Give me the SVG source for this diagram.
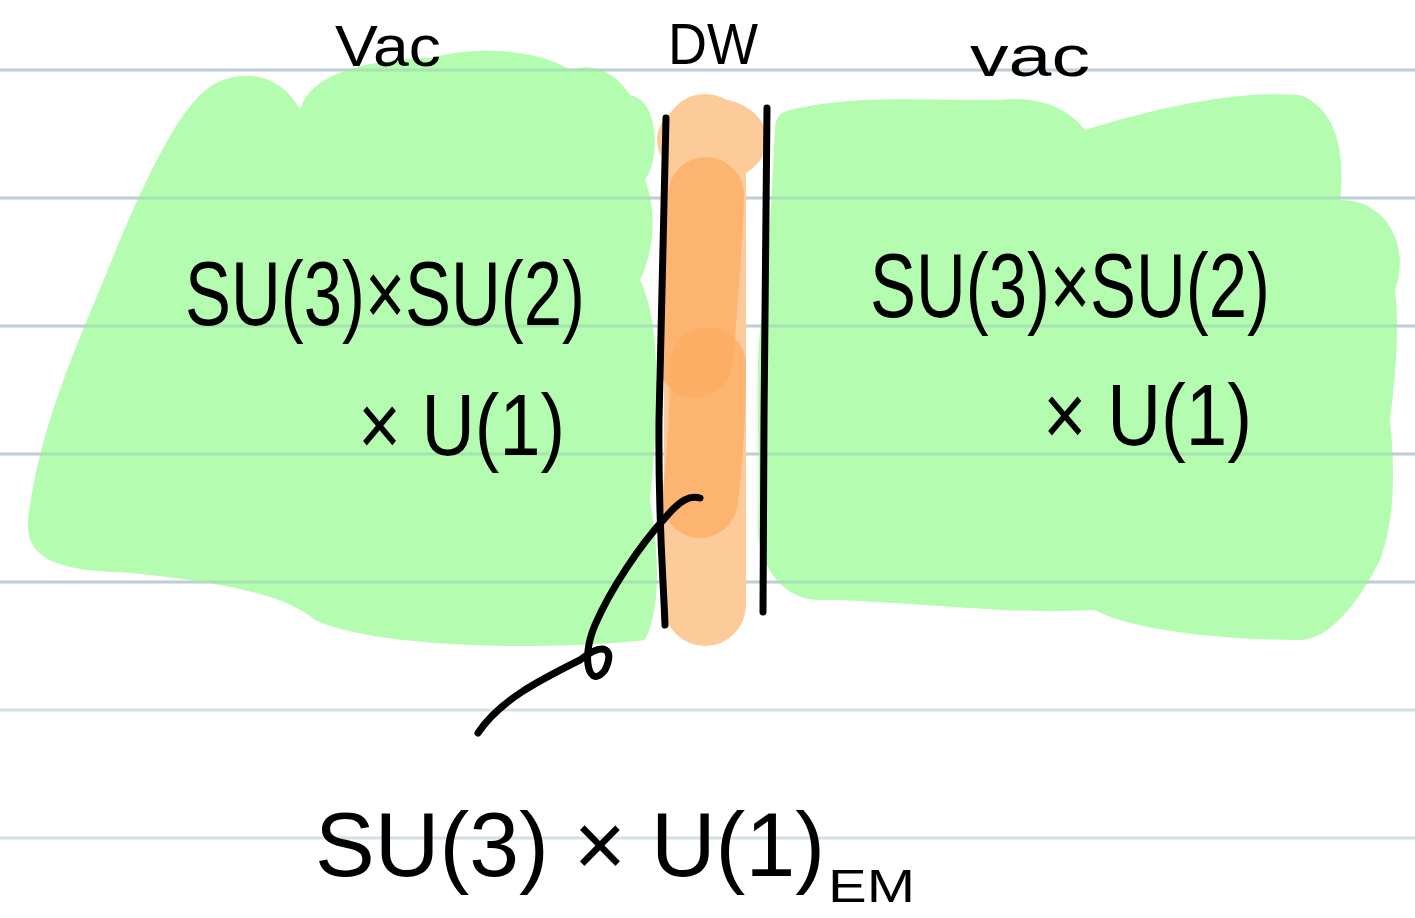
<svg xmlns="http://www.w3.org/2000/svg" width="1415" height="918" viewBox="0 0 1415 918">
<style>
.rule{stroke:#d2e0e8;stroke-width:3}
.green{fill:#b3fcb0}
.ink{fill:none;stroke:#000;stroke-width:7;stroke-linecap:round;stroke-linejoin:round}
.t{font-family:"Liberation Sans","DejaVu Sans",sans-serif;fill:#000}
</style>
<rect width="1415" height="918" fill="#fff"/>
<g id="rules">
<line class="rule" x1="0" y1="70" x2="1415" y2="70"/>
<line class="rule" x1="0" y1="198" x2="1415" y2="198"/>
<line class="rule" x1="0" y1="326" x2="1415" y2="326"/>
<line class="rule" x1="0" y1="454" x2="1415" y2="454"/>
<line class="rule" x1="0" y1="582" x2="1415" y2="582"/>
<line class="rule" x1="0" y1="710" x2="1415" y2="710"/>
<line class="rule" x1="0" y1="838" x2="1415" y2="838"/>
</g>
<g id="vac-left">
<path class="green" d="M200,95 C230,65 280,70 300,110 C310,75 360,60 430,58 C480,45 540,50 570,70 C600,60 620,80 630,95 C660,100 660,160 645,180 C660,220 650,260 640,280 C660,320 660,400 650,500 C660,560 660,610 645,640 C560,650 380,650 315,620 C280,590 200,580 120,572 C60,570 25,560 28,520 C40,420 80,340 120,240 C150,170 175,120 200,95 Z"/>
</g>
<g id="vac-right">
<path class="green" d="M790,110 C850,95 920,100 1000,100 C1040,95 1070,110 1085,130 C1150,110 1230,90 1300,95 C1340,110 1345,160 1340,200 C1390,200 1410,250 1395,290 C1400,330 1395,380 1390,420 C1395,470 1395,520 1380,560 C1360,600 1330,640 1300,640 C1200,640 1120,625 1095,610 C1000,615 900,600 820,600 C780,600 755,560 758,520 C760,440 755,380 760,330 C770,260 772,180 775,130 C775,118 780,112 790,110 Z"/>
</g>
<g id="rules-over" opacity="0.3">
<line class="rule" x1="0" y1="70" x2="1415" y2="70" style="stroke:#8fa8b8"/>
<line class="rule" x1="0" y1="198" x2="1415" y2="198" style="stroke:#8fa8b8"/>
<line class="rule" x1="0" y1="326" x2="1415" y2="326" style="stroke:#8fa8b8"/>
<line class="rule" x1="0" y1="454" x2="1415" y2="454" style="stroke:#8fa8b8"/>
<line class="rule" x1="0" y1="582" x2="1415" y2="582" style="stroke:#8fa8b8"/>
</g>
<g id="domain-wall">
<path d="M705,135 L705,605" fill="none" stroke="#fdcb9a" stroke-width="82" stroke-linecap="round"/>
<ellipse cx="712" cy="140" rx="55" ry="42" fill="#fdcb9a"/>
<path d="M706,195 C705,240 700,300 695,360" fill="none" stroke="#fcac62" stroke-opacity="0.75" stroke-width="76" stroke-linecap="round"/>
<path d="M708,365 C708,410 705,460 700,500" fill="none" stroke="#fcac62" stroke-opacity="0.75" stroke-width="76" stroke-linecap="round"/>
<path class="ink" d="M666,118 C664,200 662,300 659,420 C658,520 663,570 665,625"/>
<path class="ink" d="M767,108 C766,200 765,300 764,420 C763,500 763,560 763,612"/>
</g>
<g id="connectors">
<path class="ink" d="M700,498 C690,495 680,500 665,518 C640,545 610,590 595,625 C580,660 590,690 605,670 C615,650 605,640 580,660 C540,680 500,700 478,733"/>
</g>
<g id="labels">
<text class="t" x="335" y="66" font-size="58" textLength="106" lengthAdjust="spacingAndGlyphs">Vac</text>
<text class="t" x="668" y="64" font-size="58" textLength="90" lengthAdjust="spacingAndGlyphs">DW</text>
<text class="t" x="970" y="76" font-size="58" textLength="120" lengthAdjust="spacingAndGlyphs">vac</text>
<text class="t" x="185" y="325" font-size="90" textLength="400" lengthAdjust="spacingAndGlyphs">SU(3)×SU(2)</text>
<text class="t" x="358" y="455" font-size="88" textLength="207" lengthAdjust="spacingAndGlyphs">× U(1)</text>
<text class="t" x="870" y="317" font-size="90" textLength="400" lengthAdjust="spacingAndGlyphs">SU(3)×SU(2)</text>
<text class="t" x="1043" y="445" font-size="88" textLength="209" lengthAdjust="spacingAndGlyphs">× U(1)</text>
<text class="t" x="315" y="876" font-size="90" textLength="510" lengthAdjust="spacingAndGlyphs">SU(3) × U(1)</text>
<text class="t" x="828" y="902" font-size="46" textLength="87" lengthAdjust="spacingAndGlyphs">EM</text>
</g>
</svg>
